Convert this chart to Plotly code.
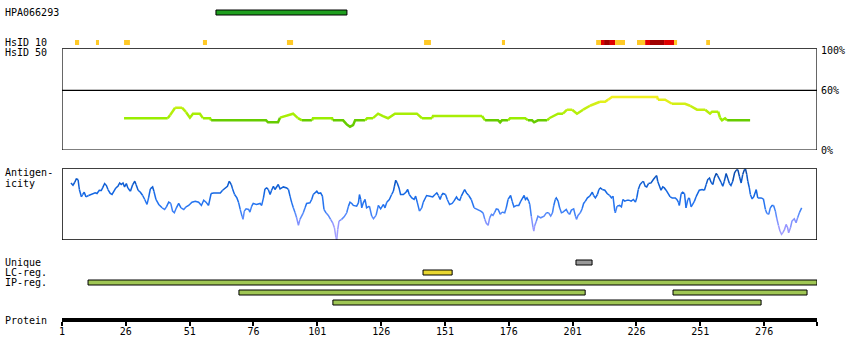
import plotly.graph_objects as go

# ---------------- data ----------------
axis_end = 296.7                      # end of protein axis (residues)
tick_residues = [1, 26, 51, 76, 101, 126, 151, 176, 201, 226, 251, 276]

epitope_name = "HPA066293"
epitope_start = [61.3]
epitope_end = [112.6]

# HsID 10 tiles (residue start, end, level)
hsid10_start = [6.1, 14.3, 25.3, 56.2, 89.1, 142.8, 173.3, 210.2, 212.1, 213.3, 215.6, 217.6,
                226.2, 229.4, 231.3, 236.8, 240.7, 253.3]
hsid10_end = [7.7, 15.5, 27.6, 57.8, 91.5, 145.5, 174.5, 212.1, 213.3, 215.6, 217.6, 221.5,
              229.4, 231.3, 236.8, 240.7, 241.9, 254.8]
hsid10_level = [1, 1, 1, 1, 1, 1, 1, 1, 2, 3, 2, 1, 1, 2, 3, 2, 1, 1]

# HsID 50 identity line (%)
hsid50_pos = [25.3, 42.4, 43.3, 45.3, 48.0, 49.6, 51.1, 52.3, 55.0, 56.2, 59.0, 59.4, 80.9, 81.7,
              85.6, 86.4, 89.1, 91.5, 93.4, 95.0, 98.9, 99.3, 106.8, 107.1, 111.1, 112.6, 113.8,
              115.0, 115.8, 119.7, 120.5, 122.8, 124.8, 126.7, 128.7, 131.4, 140.0, 142.0, 145.9,
              146.3, 165.5, 166.7, 171.8, 172.6, 173.3, 175.7, 176.5, 182.4, 183.5, 185.1, 185.9,
              187.4, 191.0, 191.8, 193.3, 195.3, 197.2, 198.8, 200.8, 202.7, 205.1, 207.8, 209.8,
              211.7, 213.7, 214.9, 216.4, 234.1, 234.4, 237.2, 239.9, 245.0, 247.0, 249.7, 252.9,
              254.8, 255.6, 258.0, 258.7, 259.5, 260.7, 261.5, 270.5]
hsid50_pct = [31.9, 31.9, 35.0, 42.5, 42.5, 38.0, 32.5, 36.5, 36.5, 32.0, 31.9, 29.8, 29.8, 27.8,
              27.8, 32.5, 34.5, 36.5, 32.0, 29.8, 29.8, 31.9, 31.9, 29.8, 29.8, 25.5, 23.4,
              25.0, 29.8, 29.8, 31.9, 32.0, 36.5, 34.0, 31.9, 36.5, 36.5, 31.9, 31.9,
              34.2, 34.2, 29.8, 29.8, 27.8, 29.8, 29.8, 31.9, 31.9, 29.8, 29.8, 27.8,
              29.8, 29.8, 31.9, 34.2, 36.5, 36.5, 40.5, 40.5, 36.5, 40.5, 44.5, 46.5,
              48.5, 48.5, 50.6, 53.3, 53.3, 50.6, 50.6, 46.5, 46.5, 44.5, 40.5, 40.5,
              36.5, 38.5, 38.5, 32.5, 29.8, 31.9, 29.8, 29.8]

# Antigenicity profile (score, 0 = box bottom, 72 = box top)
ag_pos = [4.5, 5.3, 6.0, 6.6, 7.3, 7.8, 8.2, 8.6, 9.1, 9.7, 10.4, 11.4, 12.7, 14.0, 14.7, 15.6,
          16.4, 16.9, 17.7, 18.4, 19.0, 19.9, 20.6, 21.2, 22.1, 22.9, 23.6, 24.2, 24.9, 25.5,
          26.2, 26.8, 27.8, 28.7, 29.5, 30.0, 30.8, 31.7, 32.6, 33.4, 34.3, 34.9, 35.6, 36.5,
          37.0, 37.8, 38.9, 40.2, 41.2, 41.9, 42.8, 43.6, 44.3, 45.0, 45.8, 46.7, 47.6, 48.7,
          49.6, 50.6, 51.9, 53.2, 54.5, 55.6, 56.5, 57.4, 58.4, 59.4, 60.4, 63.0, 63.9, 65.0,
          65.8, 66.5, 67.3, 67.8, 68.6, 69.5, 70.2, 70.8, 71.5, 71.9, 72.4, 73.1, 74.1, 74.6,
          75.3, 75.9, 77.2, 78.6, 79.2, 79.9, 80.5, 81.2, 81.8, 82.5, 83.1, 83.8, 84.4, 85.1,
          85.7, 86.4, 87.7, 89.0, 89.7, 90.3, 91.0, 91.6, 92.3, 92.9, 93.6, 94.2, 94.9, 95.5,
          96.2, 96.8, 98.1, 98.8, 99.4, 100.1, 100.8, 101.4, 102.3, 103.0, 103.6, 104.4, 105.3,
          106.2, 107.0, 107.7, 108.3, 108.6, 109.0, 109.5, 110.5, 111.5, 112.5, 113.2, 113.8,
          114.5, 115.1, 116.4, 117.1, 117.5, 118.0, 118.4, 119.0, 119.7, 120.3, 121.4, 122.3,
          123.0, 124.0, 124.9, 125.8, 126.9, 127.5, 128.2, 129.2, 130.1, 130.8, 131.2, 131.7,
          132.3, 133.0, 133.6, 134.7, 135.7, 136.4, 137.0, 138.0, 138.9, 139.5, 140.2, 141.0,
          141.9, 142.5, 143.2, 143.8, 145.1, 146.2, 147.1, 147.8, 148.4, 149.1, 149.6, 150.2,
          151.2, 151.9, 152.8, 153.8, 154.5, 155.5, 156.1, 156.8, 157.4, 158.1, 158.7, 159.4,
          160.3, 161.3, 162.4, 163.3, 164.2, 165.0, 165.9, 166.6, 167.2, 167.9, 168.5, 169.2,
          169.8, 170.5, 171.1, 171.8, 172.7, 173.3, 174.4, 175.0, 175.7, 176.4, 176.7, 177.3,
          178.0, 179.0, 179.9, 180.7, 181.3, 182.0, 182.5, 183.1, 183.8, 184.2, 184.8, 185.5,
          185.8, 186.1, 186.8, 187.4, 188.5, 189.8, 190.7, 191.6, 192.4, 193.1, 193.6, 194.2,
          194.6, 195.3, 195.9, 196.6, 197.2, 197.9, 198.5, 199.2, 199.8, 200.5, 201.4, 202.1,
          202.5, 203.1, 204.0, 204.7, 205.3, 206.0, 206.8, 207.7, 208.3, 208.7, 209.2, 209.9,
          210.7, 211.3, 211.9, 212.6, 213.6, 214.5, 215.5, 216.2, 216.8, 217.5, 217.7, 218.4,
          219.4, 220.1, 220.7, 221.4, 222.4, 223.0, 223.9, 224.8, 225.6, 226.1, 226.7, 227.4,
          228.2, 228.7, 229.4, 230.0, 230.7, 231.7, 232.6, 233.4, 233.9, 234.3, 235.0, 235.6,
          236.3, 236.9, 237.6, 238.5, 239.2, 240.0, 241.2, 241.8, 242.4, 242.8, 243.5, 244.1,
          244.8, 245.4, 246.1, 246.7, 247.4, 248.0, 248.7, 249.3, 250.0, 250.6, 251.7, 252.6,
          253.3, 253.9, 254.6, 255.2, 255.9, 256.5, 257.2, 257.8, 258.5, 259.1, 259.8, 260.4,
          261.1, 261.7, 262.4, 263.0, 263.7, 264.4, 265.0, 265.7, 266.3, 267.0, 267.6, 268.3,
          268.7, 269.2, 269.6, 270.2, 270.6, 271.3, 271.9, 272.4, 272.9, 273.5, 274.8, 275.7,
          276.5, 277.1, 277.8, 278.4, 279.1, 279.7, 280.4, 280.9, 281.6, 282.2, 282.8, 283.3,
          284.0, 284.6, 285.2, 285.6, 286.3, 286.9, 287.8, 288.5, 289.1, 289.8, 290.5, 290.7]
ag_val = [57.3, 55.0, 58.0, 61.3, 60.7, 50.7, 46.7, 43.3, 45.7, 48.0, 43.3, 44.7, 46.3, 47.3, 46.7, 50.0,
          49.7, 52.3, 56.7, 54.7, 50.7, 46.7, 45.7, 49.0, 52.3, 54.0, 57.3, 55.7, 57.3, 53.3,
          56.7, 52.3, 49.0, 55.7, 59.0, 55.7, 50.0, 48.0, 44.7, 40.7, 35.7, 42.3, 51.3, 53.3,
          49.0, 40.7, 35.7, 32.3, 30.7, 33.3, 38.0, 36.7, 29.0, 27.3, 32.3, 36.7, 32.3, 30.7,
          33.3, 34.7, 38.0, 39.0, 38.0, 34.7, 40.0, 38.0, 34.7, 46.7, 47.3, 47.3, 50.0, 52.3,
          54.0, 59.0, 55.7, 51.3, 45.7, 42.3, 37.3, 30.7, 24.0, 20.7, 29.0, 31.3, 30.7, 28.0,
          34.0, 36.7, 35.7, 36.7, 34.7, 42.3, 51.3, 52.3, 50.7, 45.7, 50.0, 54.0, 50.7, 53.3,
          55.7, 51.3, 53.3, 52.3, 50.7, 44.0, 37.3, 32.3, 27.3, 22.3, 14.7, 20.7, 24.7, 27.3,
          32.3, 36.7, 37.3, 40.7, 45.7, 47.3, 49.0, 46.7, 47.3, 44.0, 30.7, 27.3, 24.7,
          20.7, 17.3, 12.3, 2.3, 0.0, 10.7, 19.0, 20.7, 23.3, 27.3, 34.0, 38.0,
          36.7, 34.7, 34.0, 37.3, 45.7, 40.7, 32.3, 37.3, 40.7, 32.3, 34.0, 24.0,
          21.3, 24.7, 34.7, 31.3, 35.7, 32.3, 38.0, 40.7, 45.7, 49.0, 54.0, 60.0,
          57.3, 52.3, 45.7, 45.7, 48.0, 50.7, 45.7, 42.3, 40.7, 44.0, 37.3, 29.0,
          32.3, 38.0, 42.3, 44.7, 44.0, 43.3, 45.7, 47.3, 44.7, 40.7, 44.7, 46.7,
          45.7, 40.7, 35.7, 36.7, 39.0, 43.3, 40.7, 40.0, 44.0, 47.3, 50.7, 47.3,
          44.7, 40.7, 32.3, 31.3, 30.7, 29.0, 27.3, 20.7, 16.7, 14.7, 22.3, 25.7,
          24.7, 28.0, 31.3, 30.7, 25.7, 28.0, 27.3, 32.3, 40.7, 44.0, 44.7, 39.0,
          33.3, 34.7, 34.7, 39.0, 42.3, 44.7, 40.7, 42.3, 39.0, 35.7, 24.0, 12.3,
          9.0, 14.0, 19.0, 24.0, 22.3, 24.0, 27.3, 27.3, 24.0, 27.3, 34.7, 40.7,
          42.3, 39.0, 32.3, 27.3, 28.0, 30.0, 30.7, 27.3, 25.7, 30.0, 31.3, 24.0,
          20.7, 24.7, 27.3, 31.3, 36.7, 39.0, 42.3, 44.0, 47.3, 48.0, 44.7, 42.3,
          45.7, 50.7, 52.3, 50.7, 50.0, 46.7, 44.7, 42.3, 44.0, 29.0, 27.3, 34.0,
          34.7, 33.3, 40.7, 39.0, 40.0, 40.0, 39.0, 40.7, 38.0, 42.3, 50.7, 55.7,
          58.0, 59.0, 54.0, 53.3, 56.7, 57.3, 60.7, 63.3, 64.7, 59.0, 53.3, 50.0,
          53.3, 52.3, 50.0, 46.7, 43.3, 42.3, 42.3, 40.7, 38.0, 34.7, 46.7, 48.0,
          46.7, 32.3, 40.7, 42.3, 33.3, 35.7, 39.0, 43.3, 47.3, 50.0, 50.7, 50.0,
          55.7, 60.7, 62.3, 58.0, 55.7, 62.3, 66.7, 64.7, 61.3, 58.0, 54.0, 59.0,
          66.7, 62.3, 56.7, 54.7, 59.0, 67.3, 70.0, 70.7, 64.0, 57.3, 65.7, 70.7,
          71.3, 65.7, 59.0, 52.3, 45.7, 41.3, 43.3, 47.3, 50.7, 42.3, 42.3, 41.3,
          30.7, 26.7, 25.7, 32.3, 34.7, 34.7, 29.0, 22.3, 14.7, 9.0, 5.7, 7.3,
          10.7, 15.7, 12.3, 7.3, 12.3, 19.0, 21.3, 17.3, 22.3, 27.3, 31.3, 32.3]

unique_start = [202.3]
unique_end = [208.6]
lc_start = [142.4]
lc_end = [153.8]
ip_start = [11.2, 70.3, 240.3, 107.1]
ip_end = [296.7, 205.9, 292.8, 274.8]
ip_row = [0, 1, 1, 2]

# ---------------- layout constants (pixel rows) ----------------
H = 360
ROW_EPITOPE = 12.5
ROW_HSID10 = 42.5
ROW_UNIQUE = 262.5
ROW_LC = 272.5
ROW_IP = [282.5, 292.5, 302.5]
FONT = "DejaVu Sans Mono"


def hex_interp(stops, v):
    if v <= stops[0][0]:
        return stops[0][1]
    for (a, ca), (b, cb) in zip(stops[:-1], stops[1:]):
        if v <= b:
            t = (v - a) / (b - a)
            c1 = [int(ca[i:i + 2], 16) for i in (1, 3, 5)]
            c2 = [int(cb[i:i + 2], 16) for i in (1, 3, 5)]
            return "#%02x%02x%02x" % tuple(round(p + (q - p) * t) for p, q in zip(c1, c2))
    return stops[-1][1]


def hs_color(v):
    if v < 30.5:
        return "#66cc00"
    q = round((v - 31) / 22.3 * 6) / 6 * 22.3 + 31
    return hex_interp([(31, "#99ee00"), (53.3, "#f0f020")], q)


def ag_color(v):
    q = round(v / 6) * 6
    return hex_interp([(0, "#a8a4ff"), (15, "#9494ff"), (26, "#4c88fa"), (36, "#2574f0"),
                       (48, "#1366e2"), (60, "#0c58c8"), (72, "#083f98")], q)


def colored_line(xs, ys, color_fn, yaxis, width):
    traces = []
    cur, sx, sy = None, [], []
    for i in range(len(xs) - 1):
        c = color_fn((ys[i] + ys[i + 1]) / 2)
        if c != cur:
            if sx:
                traces.append((cur, sx, sy))
            cur, sx, sy = c, [xs[i]], [ys[i]]
        sx.append(xs[i + 1])
        sy.append(ys[i + 1])
    if sx:
        traces.append((cur, sx, sy))
    return [go.Scatter(x=x, y=y, mode="lines", yaxis=yaxis, hoverinfo="skip",
                       line=dict(color=c, width=width)) for c, x, y in traces]


fig = go.Figure()


def hbar(starts, ends, rows, colors, outline=True, h=5):
    fig.add_trace(go.Bar(
        orientation="h", base=starts, x=[e - s for s, e in zip(starts, ends)], y=rows,
        width=[h] * len(starts), yaxis="y",
        marker=dict(color=colors, line=dict(color="black", width=1 if outline else 0)),
        hoverinfo="skip"))


# epitope
hbar(epitope_start, epitope_end, [ROW_EPITOPE], ["#1f9f1f"])
# HsID 10 tiles
lvl_col = {1: "#ffc926", 2: "#e00000", 3: "#a00000"}
hbar(hsid10_start, hsid10_end, [ROW_HSID10] * len(hsid10_start),
     [lvl_col[l] for l in hsid10_level], outline=False)
# unique / LC / IP
hbar(unique_start, unique_end, [ROW_UNIQUE], ["#999999"])
hbar(lc_start, lc_end, [ROW_LC], ["#e8d630"])
hbar(ip_start, ip_end, [ROW_IP[r] for r in ip_row], ["#9fc654"] * len(ip_start))

# lines
for t in colored_line(hsid50_pos, hsid50_pct, hs_color, "y2", 2.5):
    fig.add_trace(t)
for t in colored_line(ag_pos, ag_val, ag_color, "y3", 1.5):
    fig.add_trace(t)

HS_TOP = 102.2
AG_TOP = 72

shapes = [
    dict(type="rect", xref="x", yref="y2", x0=1, x1=axis_end, y0=0, y1=HS_TOP,
         line=dict(color="black", width=1.2), layer="above"),
    dict(type="line", xref="x", yref="y2", x0=1, x1=axis_end, y0=60, y1=60,
         line=dict(color="black", width=1.2), layer="above"),
    dict(type="rect", xref="x", yref="y3", x0=1, x1=axis_end, y0=0, y1=AG_TOP,
         line=dict(color="black", width=1.5), layer="above"),
]

LX = -59 / 755


def lab(text, ypix):
    return dict(text=text, xref="paper", yref="paper", x=LX, y=1 - ypix / H, xanchor="left",
                yanchor="middle", showarrow=False, font=dict(family=FONT, size=10, color="black"))


annotations = [
    lab(epitope_name, 12.5), lab("HsID 10", 42.5), lab("HsID 50", 52.5),
    lab("Antigen-", 172.5), lab("icity", 183.5),
    lab("Unique", 262.5), lab("LC-reg.", 272.5), lab("IP-reg.", 282.5),
    lab("Protein", 320),
]
for val, txt in [(100, "100%"), (60, "60%"), (0, "0%")]:
    annotations.append(dict(text=txt, xref="x", yref="y2", x=axis_end, y=val, xanchor="left",
                            yanchor="middle", xshift=2, showarrow=False,
                            font=dict(family=FONT, size=10, color="black")))

fig.update_layout(
    width=850, height=H, margin=dict(l=62, r=33, t=0, b=0),
    paper_bgcolor="white", plot_bgcolor="white", showlegend=False, barmode="overlay",
    font=dict(family=FONT, size=10, color="black"),
    xaxis=dict(range=[1, axis_end], domain=[0, 1], anchor="free", position=1 - 320 / H,
               showline=True, linewidth=4, linecolor="black", ticks="outside", ticklen=4,
               tickwidth=2, tickcolor="black", tickvals=tick_residues + [axis_end],
               ticktext=[str(t) for t in tick_residues] + [""], showgrid=False, zeroline=False,
               tickfont=dict(family=FONT, size=10, color="black"), ticklabelstandoff=-3,
               fixedrange=True),
    yaxis=dict(range=[H, 0], domain=[0, 1], visible=False, fixedrange=True),
    yaxis2=dict(domain=[1 - 150 / H, 1 - 48.3 / H], range=[0, HS_TOP], visible=False,
                anchor="x", fixedrange=True),
    yaxis3=dict(domain=[1 - 240 / H, 1 - 168.3 / H], range=[0, AG_TOP], visible=False,
                anchor="x", fixedrange=True),
    shapes=shapes, annotations=annotations,
)

fig.write_html("out.html", config={"displayModeBar": False},
               post_script="document.body.style.margin='0px';")
